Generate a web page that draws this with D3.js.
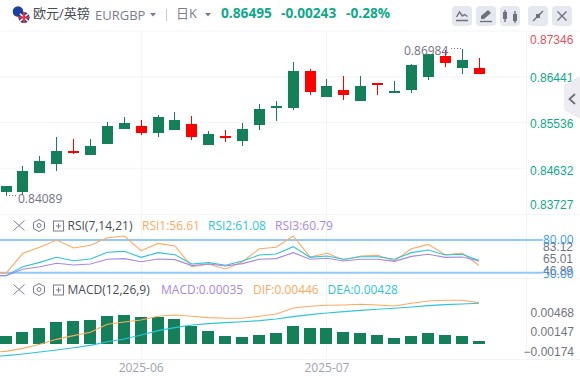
<!DOCTYPE html>
<html>
<head>
<meta charset="utf-8">
<script src="https://cdn.jsdelivr.net/npm/d3@7"></script>
<style>
  html, body { margin: 0; padding: 0; background: #fff; }
  svg { display: block; font-family: "Open Sans", "Noto Sans CJK SC", sans-serif; }
</style>
</head>
<body>
<svg id="svg" width="580" height="381"></svg>
<script>
const width = 580
const height = 381

// candles
const open_p  = [.8416, .8416, .84538, .84717, .84975, .84896, .85114, .85413, .85472, .85333, .85393, .85512, .85094, .85273, .85174, .85492, .8585, .8581, .86546, .86049, .86188, .8597, .86308, .86149, .86169, .86427, .86845, .86606, .86606]
const high_p  = [.84259, .84677, .84876, .85251, .8521, .8521, .85552, .85651, .85592, .85691, .85751, .85671, .85373, .85393, .85532, .85911, .8597, .86725, .86587, .86387, .86447, .86447, .86308, .86348, .86686, .86885, .86965, .86984, .86805]
const low_p   = [.84089, .84101, .84538, .84577, .84915, .84896, .85114, .85413, .85294, .85254, .85393, .85194, .85094, .85154, .85075, .85393, .85572, .85771, .86069, .86049, .8597, .8597, .86069, .86109, .86109, .86367, .86626, .86487, .86487]
const close_p = [.8428, .8458, .84776, .84975, .84935, .85075, .85472, .85532, .85333, .85651, .85592, .85254, .85313, .85234, .85413, .8581, .8587, .86546, .86128, .86268, .86089, .86268, .86288, .86169, .86666, .86885, .86706, .86765, .86495]

// first value of each line belongs to the candle just off the left edge
const rsi1 = [50.5, 49.4, 67.8, 73.3, 80, 72.7, 75.1, 82.1, 83.7, 70.2, 76.9, 74.5, 55.5, 57.7, 53.4, 60.1, 72, 73.3, 83.7, 64.4, 67.8, 61.7, 65.3, 65.9, 61, 72, 76, 66.5, 68.1, 56.61]
const rsi2 = [47.3, 47.3, 55.5, 59.5, 64.1, 61, 62.6, 68.7, 69.6, 64.1, 68.4, 66.5, 58, 59.2, 56.8, 60.7, 66.2, 67.2, 73.9, 64.1, 65.3, 62.3, 64.7, 64.7, 62.3, 68.4, 70.8, 66.2, 66.9, 61.08]
const rsi3 = [47.3, 47.3, 53.1, 55.5, 58.6, 57.1, 58, 62.3, 62.9, 60.1, 62.6, 62, 56.5, 58, 56.1, 58.3, 62.3, 62.9, 68.4, 62.3, 63.2, 60.7, 62.3, 62.3, 60.4, 65, 66.9, 64.1, 64.4, 60.79]

const macd_bar = [.00131, .00196, .00261, .00359, .00375, .00392, .00457, .00473, .00441, .00441, .00408, .00294, .00212, .00131, .00114, .00147, .0018, .00294, .00261, .00261, .00196, .0018, .00147, .00098, .00131, .0018, .00147, .00131, .00045]
const dif = [-.00135, -.0012, -.00071, -.00005, .00076, .00136, .0019, .00321, .00359, .00392, .00452, .00473, .00452, .0043, .00419, .00419, .00452, .0049, .00588, .00615, .00631, .00636, .00647, .00636, .0062, .00664, .00702, .00713, .00713, .00675]
const dea = [-.00205, -.0019, -.00163, -.00131, -.00098, -.0006, -.00022, .00038, .00082, .00147, .00218, .00267, .0031, .00332, .00348, .00364, .00381, .00408, .00446, .00479, .00506, .00528, .00549, .00566, .00582, .00604, .00626, .00642, .00653, .00664]

const price_ticks = [.87346, .86441, .85536, .84632, .83727]
const rsi_ticks = [83.12, 65.01, 46.89]
const rsi_bands = [80, 50]
const macd_ticks = [.00468, .00147, -.00174]
const month_idx = [8, 19]
const month_labels = ['2025-06', '2025-07']

const green = '#13805a'
const red = '#ff0000'
const teal = '#10a98c'
const grid = '#f3f4f8'
const grey = '#71747f'
const icon = '#6e707c'

let svg = d3.select('#svg')
  .attr('viewBox', `0 0 ${width} ${height}`)

// shared x, one slot per candle
const x_scale = d3.scaleLinear().domain([0, 28]).range([6, 479])
const x_px = i => Math.floor(x_scale(i))
const idx = d3.range(open_p.length)

const y_price = d3.scaleLinear().domain([.83727, .87346]).range([214, 31])
const y_rsi = d3.scaleLinear().domain([50, 80]).range([272.7, 240])
const y_macd = d3.scaleLinear().domain([0, .00468]).range([344, 315.3])

// grid and pane borders
const h_lines = [31, 214.5, 278.5, 359.5]
svg.append('g').selectAll('line').data(h_lines).join('line')
  .attr('x1', 0).attr('x2', width).attr('y1', d => d).attr('y2', d => d)
  .attr('stroke', grid).attr('stroke-width', 1.2)
svg.append('g').selectAll('line').data(price_ticks.slice(1, 4)).join('line')
  .attr('x1', 0).attr('x2', 527).attr('y1', d => y_price(d)).attr('y2', d => y_price(d))
  .attr('stroke', grid)
svg.append('g').selectAll('line').data(month_idx).join('line')
  .attr('x1', d => x_px(d) + .5).attr('x2', d => x_px(d) + .5)
  .attr('y1', 31).attr('y2', 359.5)
  .attr('stroke', grid)
svg.append('line').attr('x1', 526.5).attr('x2', 526.5).attr('y1', 31).attr('y2', 359.5).attr('stroke', grid)

// candles
const candle = svg.append('g').attr('class', 'candles')
  .selectAll('g').data(idx).join('g')
  .attr('fill', i => close_p[i] >= open_p[i] ? green : red)
candle.append('rect')
  .attr('x', i => x_px(i)).attr('width', 1)
  .attr('y', i => Math.round(y_price(high_p[i])))
  .attr('height', i => Math.round(y_price(low_p[i]) - y_price(high_p[i])))
candle.append('rect')
  .attr('x', i => x_px(i) - 5).attr('width', 11)
  .attr('y', i => Math.round(y_price(Math.max(open_p[i], close_p[i]))))
  .attr('height', i => Math.max(2, Math.round(Math.abs(y_price(open_p[i]) - y_price(close_p[i])))))

// high / low marks
svg.append('text').attr('x', 404).attr('y', 54.5).attr('font-size', 12).attr('fill', grey).text('0.86984')
svg.append('line').attr('x1', 451).attr('x2', 462).attr('y1', 48.5).attr('y2', 48.5)
  .attr('stroke', grey).attr('stroke-dasharray', '1 2')
svg.append('text').attr('x', 18).attr('y', 202.5).attr('font-size', 12).attr('fill', grey).text('0.84089')
svg.append('line').attr('x1', 6).attr('x2', 16).attr('y1', 195.5).attr('y2', 195.5)
  .attr('stroke', grey).attr('stroke-dasharray', '1 2')

// price axis, outer labels get pushed in
let price_axis = svg.append('g').attr('transform', 'translate(530, 0)')
  .call(d3.axisRight(y_price).tickValues(price_ticks).tickSize(0).tickPadding(0).tickFormat(d3.format('.5f')))
price_axis.select('.domain').remove()
price_axis.selectAll('text')
  .attr('font-size', 12).attr('font-family', 'inherit')
  .attr('fill', d => d === price_ticks[0] ? '#e3505f' : teal)
  .attr('dy', d => d === price_ticks[0] ? 12.3 : d === price_ticks[4] ? -5.6 : d === price_ticks[3] ? 6.6 : d === price_ticks[2] ? 5.4 : 4.8)

// rsi bands and lines
const rsi_line = s => d3.line().x((d, i) => x_scale(i - 1)).y(d => y_rsi(d))(s)
svg.append('g').selectAll('line').data(rsi_bands).join('line')
  .attr('x1', 0).attr('x2', 543).attr('y1', d => y_rsi(d)).attr('y2', d => y_rsi(d))
  .attr('stroke', '#90caf9').attr('stroke-width', 2)
const rsi_sets = [[rsi1, '#ffa95e'], [rsi2, '#2cc5da'], [rsi3, '#a788e6']]
svg.append('g').selectAll('path').data(rsi_sets).join('path')
  .attr('d', d => rsi_line(d[0]))
  .attr('fill', 'none').attr('stroke', d => d[1]).attr('stroke-width', 1.1)

let rsi_axis = svg.append('g').attr('transform', 'translate(543, 0)')
  .call(d3.axisRight(y_rsi).tickValues(rsi_ticks).tickSize(0).tickPadding(0).tickFormat(d3.format('.2f')))
rsi_axis.select('.domain').remove()
rsi_axis.selectAll('text')
  .attr('font-size', 12).attr('font-family', 'inherit').attr('fill', grey)
  .attr('dy', (d, i) => [14.4, 6, -1.7][i])
svg.append('g').selectAll('text').data(rsi_bands).join('text')
  .attr('x', 543).attr('y', d => y_rsi(d) + (d === 50 ? 5.7 : 4))
  .attr('font-size', 12).attr('fill', '#3d9df0')
  .text(d => d.toFixed(2))

// macd bars and lines
svg.append('g').selectAll('rect').data(idx).join('rect')
  .attr('x', i => x_px(i) - 6).attr('width', 12)
  .attr('y', i => Math.round(y_macd(macd_bar[i])))
  .attr('height', i => y_macd(0) - Math.round(y_macd(macd_bar[i])))
  .attr('fill', green)
const macd_line = s => d3.line().x((d, i) => x_scale(i - 1)).y(d => y_macd(d))(s)
const macd_sets = [[dif, '#ffa95e'], [dea, '#2cc5da']]
svg.append('g').selectAll('path').data(macd_sets).join('path')
  .attr('d', d => macd_line(d[0]))
  .attr('fill', 'none').attr('stroke', d => d[1]).attr('stroke-width', 1.1)

let macd_axis = svg.append('g').attr('transform', 'translate(574, 0)')
  .call(d3.axisLeft(y_macd).tickValues(macd_ticks).tickSize(0).tickPadding(0).tickFormat(d3.format('.5f')))
macd_axis.select('.domain').remove()
macd_axis.selectAll('text')
  .attr('font-size', 12).attr('font-family', 'inherit').attr('fill', grey).attr('dy', 0.8)

// x labels
svg.append('g').selectAll('text').data(month_idx).join('text')
  .attr('x', d => x_scale(d)).attr('y', 372)
  .attr('text-anchor', 'middle').attr('font-size', 12).attr('fill', '#a0a3ad')
  .text((d, i) => month_labels[i])

// header texts
const label = (x, y, txt, size, fill, weight) => svg.append('text')
  .attr('x', x).attr('y', y).attr('font-size', size).attr('fill', fill)
  .attr('font-weight', weight || 400).text(txt)
label(33, 18, '欧元/英镑', 13, '#4a4c55')
label(95, 20, 'EURGBP', 13, '#7b7e8a')
label(176, 18, '日K', 13, '#7b7e8a')
label(221, 18, '0.86495', 13.7, teal, 700)
label(281, 18, '-0.00243', 13.7, teal, 700)
label(346, 18, '-0.28%', 13.7, teal, 700)
svg.append('path').attr('d', 'M150 13h6l-3 3.500z').attr('fill', '#7b7e8a')
svg.append('path').attr('d', 'M205 13h6l-3 3.500z').attr('fill', '#7b7e8a')
svg.append('line').attr('x1', 166.5).attr('x2', 166.5).attr('y1', 9).attr('y2', 21).attr('stroke', '#c9cbd3')

// flags
svg.append('circle').attr('cx', 18).attr('cy', 11.5).attr('r', 5.3).attr('fill', '#1f3f9c')
svg.append('clipPath').attr('id', 'uk').append('circle').attr('cx', 24).attr('cy', 17.5).attr('r', 5.5)
const uk = svg.append('g').attr('clip-path', 'url(#uk)')
uk.append('rect').attr('x', 18).attr('y', 12).attr('width', 12).attr('height', 11).attr('fill', '#2a3f8f')
uk.append('path').attr('d', 'M18 12l12 11M30 12l-12 11').attr('stroke', '#fff').attr('stroke-width', 1.5)
uk.append('path').attr('d', 'M18 17.500h12M24 12v11').attr('stroke', '#e8324a').attr('stroke-width', 2.2)

// toolbar buttons
const btn_x = [452, 476, 500, 528, 552]
svg.append('g').selectAll('rect').data(btn_x).join('rect')
  .attr('x', d => d).attr('y', 6).attr('width', 20).attr('height', 20).attr('rx', 4)
  .attr('fill', '#e6e8f0')
const icons = [
  'M456 20.500h12M456.500 17l3-5 3 4 2-1.500 3 2',
  'M480 21.500h12',
  'M505 10v12M515 11v12',
  'M533 21l4-4M543 11l-4 4',
  'M557.500 11.500l9 9M566.500 11.500l-9 9'
]
svg.append('g').selectAll('path').data(icons).join('path')
  .attr('d', d => d).attr('fill', 'none').attr('stroke', icon).attr('stroke-width', 1.4)
svg.append('path').attr('d', 'M481 19v-3l7-6 3 3-7 6z').attr('fill', icon)
svg.append('path').attr('d', 'M536 14h4v4h-0zM536 14l4 4h-4z').attr('fill', icon)
svg.append('path').attr('d', 'M540 13v4h-4z M536 16v3 M536 18h4l-4-4z').attr('fill', icon)
svg.append('rect').attr('x', 503).attr('y', 12).attr('width', 4).attr('height', 7).attr('fill', icon)
svg.append('rect').attr('x', 513).attr('y', 14).attr('width', 4).attr('height', 7).attr('fill', icon)

// side tab sits over the labels
svg.append('path').attr('d', 'M580 76L564 85V110L580 119Z').attr('fill', '#e9e9ef').attr('opacity', .85)
svg.append('path').attr('d', 'M575 94l-5.500 5 5.500 5').attr('fill', 'none').attr('stroke', icon).attr('stroke-width', 1.8)

// pane titles
const pane_head = (y, name, items) => {
  svg.append('path').attr('d', `M13.500 ${y - 5}l11 10M24.500 ${y - 5}l-11 10`).attr('stroke', '#7b7e8a').attr('fill', 'none')
  svg.append('path').attr('d', `M39 ${y - 6}l5.500 3v6l-5.500 3-5.500-3v-6z`).attr('stroke', '#7b7e8a').attr('fill', 'none')
  svg.append('circle').attr('cx', 39).attr('cy', y).attr('r', 2).attr('stroke', '#7b7e8a').attr('fill', 'none')
  svg.append('rect').attr('x', 53.5).attr('y', y - 4.5).attr('width', 10).attr('height', 10).attr('stroke', '#7b7e8a').attr('fill', 'none')
  svg.append('path').attr('d', `M56 ${y + .5}h5M58.500 ${y - 2}v5`).attr('stroke', '#7b7e8a')
  label(67.5, y + 4.5, name, 12, '#4a4c55')
  items.forEach(d => label(d[0], y + 4.5, d[1], 12, d[2]))
}
pane_head(225.5, 'RSI(7,14,21)', [[142, 'RSI1:56.61', '#ffa95e'], [208, 'RSI2:61.08', '#2cc5da'], [275, 'RSI3:60.79', '#a788e6']])
pane_head(289.5, 'MACD(12,26,9)', [[161, 'MACD:0.00035', '#a788e6'], [253, 'DIF:0.00446', '#ffa95e'], [327.5, 'DEA:0.00428', '#2cc5da']])
</script>
</body>
</html>
